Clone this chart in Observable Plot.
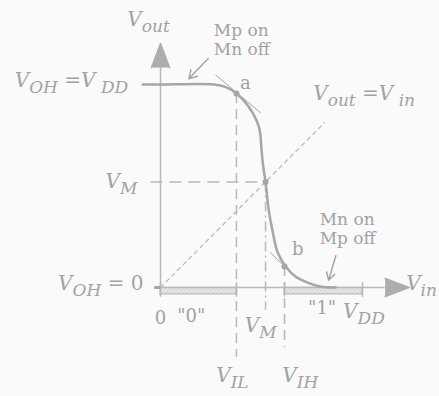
<!DOCTYPE html>
<html><head><meta charset="utf-8">
<script src="https://cdn.jsdelivr.net/npm/d3@7"></script>
<script src="https://cdn.jsdelivr.net/npm/@observablehq/plot@0.6"></script>
<style>body{margin:0;background:#fafafa;} svg{display:block;}</style>
</head><body><div id="chart"></div>
<script>
// Key voltages (arbitrary units, V_DD = 2.5)
const VDD = 2.5, VIL = 0.94, VM = 1.3, VIH = 1.535;

// Transfer curve V_out(V_in)
const curveX = [-0.22, 0, 0.66, 0.80, 0.94, 1.09, 1.22, 1.25, 1.27, 1.30, 1.34, 1.39, 1.45, 1.55, 1.67, 1.82, 1.98, 2.17];
const curveY = [2.5, 2.5, 2.5, 2.47, 2.39, 2.23, 1.97, 1.70, 1.50, 1.30, 0.95, 0.68, 0.43, 0.26, 0.135, 0.06, 0.012, 0];

// Marked points a, V_M, b
const ptX = [VIL, VM, VIH];
const ptY = [2.39, VM, 0.26];

// Tangents at a and b
const tanX1 = [0.68, 1.36], tanY1 = [2.62, 0.43];
const tanX2 = [1.24, 1.58], tanY2 = [2.15, 0.22];

// Vertical dashed guides (V_IL, V_M, V_IH)
const guideX = [VIL, VM, VIH];
const guideTop = [2.39, VM, 0.26];
const guideBottom = [-0.86, -0.28, -0.74];
const guideDash = ["10,6", "10,4,2,4", "10,6"];

// Logic-level bars along the V_in axis ("0" and "1")
const barX1 = [0, VIH], barX2 = [VIL, VDD];
const capX = [0, VIL, VIH, VDD];

// Annotation arrows
const annX1 = [0.59, 2.17], annY1 = [2.82, 0.39];
const annX2 = [0.35, 2.08], annY2 = [2.57, 0.09];

// Math labels (V with subscripts; ~{..} is upright)
const mathText = ["V_{out}", "V_{OH} =V_{ DD}", "V_{M}", "V_{OH} ~{= 0}", "V_{in}", "V_{out} =V_{ in}", "V_{M}", "V_{IL}", "V_{IH}", "V_{DD}"];
const mathX = [-0.41, -0.40, -0.285, -0.21, 3.04, 1.89, 1.24, 0.89, 1.73, 2.26];
const mathY = [3.30, 2.55, VM, 0.05, 0.05, 2.39, -0.47, -1.08, -1.08, -0.30];
const mathAnchor = ["start", "end", "end", "end", "start", "start", "middle", "middle", "middle", "start"];

// Plain labels
const plainText = ["0", "\"0\"", "\"1\"", "a", "b"];
const plainX = [0, 0.38, 2.0, 1.05, 1.70];
const plainY = [-0.38, -0.36, -0.26, 2.52, 0.47];

const noteText = ["Mp on\nMn off", "Mn on\nMp off"];
const noteX = [0.66, 1.97];
const noteY = [3.05, 0.73];

const idx = a => a.map((_, i) => i);
const LINE = "#a6a6a6", AXIS = "#b8b8b8", TEXT = "#a2a2a2";

const chart = Plot.plot({
  width: 439, height: 396,
  marginLeft: 160, marginRight: 77, marginTop: 84, marginBottom: 109,
  x: {domain: [0, VDD], axis: null},
  y: {domain: [0, VDD], axis: null},
  style: {background: "transparent", color: TEXT, fontFamily: "DejaVu Serif"},
  marks: [
    Plot.rect(idx(barX1), {x1: i => barX1[i], x2: i => barX2[i], y1: -0.005, y2: -0.085, fill: "url(#hatch)", stroke: AXIS, strokeWidth: 1.2}),
    Plot.ruleX(capX, {y1: 0.06, y2: -0.12, stroke: AXIS, strokeWidth: 1.5}),
    Plot.ruleX([0], {y1: 0, y2: 2.71, stroke: AXIS, strokeWidth: 1.5}),
    Plot.ruleY([0], {x1: -0.07, x2: 2.78, stroke: AXIS, strokeWidth: 1.5}),
    Plot.ruleY([0], {x1: -0.07, x2: 0, stroke: LINE, strokeWidth: 3}),
    Plot.vector([{x: 0, y: 2.71, r: 0}, {x: 2.78, y: 0, r: 90}], {x: "x", y: "y", rotate: "r", length: 24, r: 9, shape: "spike", anchor: "start", fill: "#adadad", stroke: "#adadad"}),
    Plot.ruleY([VM], {x1: -0.12, x2: VM, stroke: AXIS, strokeWidth: 1.6, strokeDasharray: "12,7"}),
    ...idx(guideX).map(i => Plot.ruleX([guideX[i]], {y1: guideTop[i], y2: guideBottom[i], stroke: AXIS, strokeWidth: 1.5, strokeDasharray: guideDash[i]})),
    Plot.line([0, 2.03], {x: d => d, y: d => d, stroke: AXIS, strokeWidth: 1.2, strokeDasharray: "4,4"}),
    Plot.link(idx(tanX1), {x1: i => tanX1[i], y1: i => tanY1[i], x2: i => tanX2[i], y2: i => tanY2[i], stroke: LINE, strokeWidth: 1}),
    Plot.line(idx(curveX), {x: i => curveX[i], y: i => curveY[i], curve: "catmull-rom", stroke: LINE, strokeWidth: 2.5}),
    Plot.dot(idx(ptX), {x: i => ptX[i], y: i => ptY[i], r: 3, fill: LINE}),
    Plot.arrow(idx(annX1), {x1: i => annX1[i], y1: i => annY1[i], x2: i => annX2[i], y2: i => annY2[i], stroke: LINE, strokeWidth: 1.5, headLength: 9}),
    ...["start", "end", "middle"].map(a => Plot.text(idx(mathText).filter(i => mathAnchor[i] === a), {x: i => mathX[i], y: i => mathY[i], text: i => mathText[i], textAnchor: a, fontSize: 20, fontStyle: "italic", fill: TEXT})),
    Plot.text(idx(plainText), {x: i => plainX[i], y: i => plainY[i], text: i => plainText[i], fontSize: 18, fill: TEXT}),
    Plot.text(idx(noteText), {x: i => noteX[i], y: i => noteY[i], text: i => noteText[i], textAnchor: "start", fontSize: 17, lineHeight: 1.12, fill: TEXT})
  ]
});

// hatch pattern for the logic-level bars
const defs = d3.select(chart).insert("defs", ":first-child");
const pat = defs.append("pattern").attr("id", "hatch").attr("patternUnits", "userSpaceOnUse")
  .attr("width", 3).attr("height", 3).attr("patternTransform", "rotate(45)");
pat.append("rect").attr("width", 3).attr("height", 3).attr("fill", "#e6e6e6");
pat.append("line").attr("x1", 0).attr("y1", 0).attr("x2", 0).attr("y2", 3).attr("stroke", "#cacaca").attr("stroke-width", 1.2);

// subscripts (_{..}) and upright runs (~{..})
d3.select(chart).selectAll("text").each(function () {
  const t = this.textContent;
  if (!t.includes("_{") && !t.includes("~{")) return;
  this.textContent = "";
  const parts = t.split(/([_~]\{[^}]*\})/).filter(s => s.length);
  let low = false;
  for (const s of parts) {
    const ts = d3.select(this).append("tspan");
    if (s.startsWith("_{")) {
      ts.text(s.slice(2, -1)).attr("font-size", 17);
      if (!low) ts.attr("dy", 6);
      low = true;
    } else {
      if (s.startsWith("~{")) ts.text(s.slice(2, -1)).attr("font-style", "normal");
      else ts.text(s);
      if (low) { ts.attr("dy", -6); low = false; }
    }
  }
});

document.getElementById("chart").append(chart);
</script></body></html>
